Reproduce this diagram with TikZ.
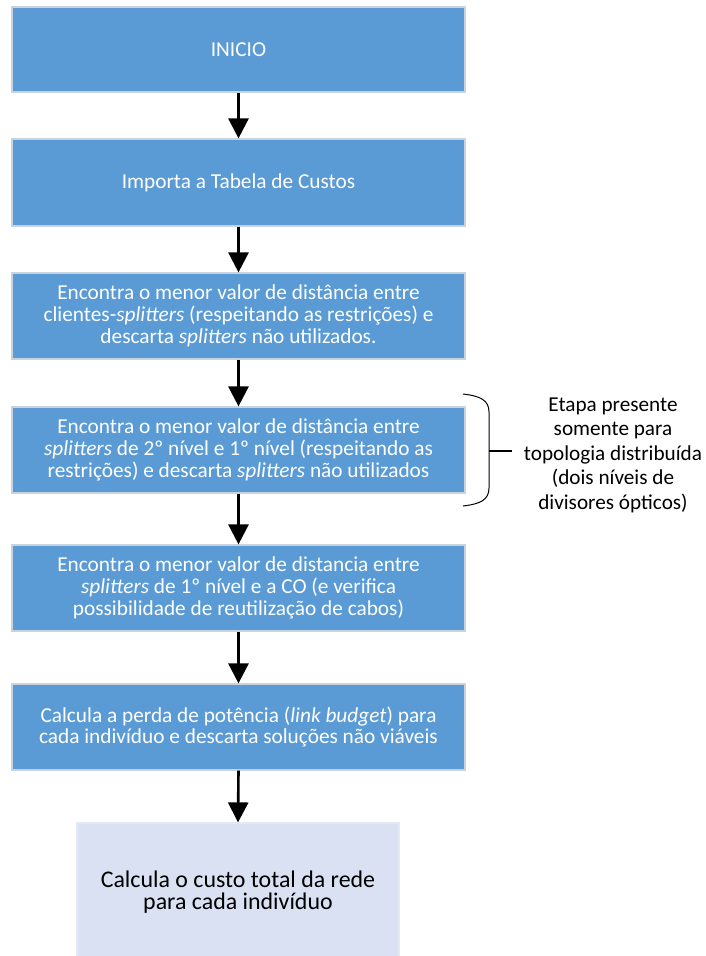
\documentclass[tikz,border=0pt]{standalone}
\usepackage{fontspec}
\setmainfont{Carlito}
\usetikzlibrary{arrows.meta}
\definecolor{boxblue}{HTML}{5B9BD5}
\definecolor{boxedge}{HTML}{C8D3E0}
\definecolor{boxlav}{HTML}{DAE1F3}
\definecolor{lavedge}{HTML}{E4E8F2}
\begin{document}
\begin{tikzpicture}[x=1pt,y=-1pt,
  stepbox/.style={draw=boxedge, line width=1.2pt, fill=boxblue, text=white,
    minimum width=453pt, inner sep=0pt, align=center,
    font=\fontsize{21.3}{21.7}\selectfont},
  lastbox/.style={draw=lavedge, line width=1.2pt, fill=boxlav, text=black,
    minimum width=322pt, inner sep=0pt, align=center,
    font=\fontsize{23.9}{21.7}\selectfont},
  flow/.style={line width=2.6pt, -{Triangle[width=20pt,length=20pt]}, shorten >=0pt}
]
\useasboundingbox (0,0) rectangle (706,956);
\clip (0,0) rectangle (706,956);
\node[stepbox, minimum height=85pt] (b1) at (238.5,49.5) {INICIO};
\node[stepbox, minimum height=87pt] (b2) at (238.5,182.5) {Importa a Tabela de Custos};
\node[stepbox, minimum height=86pt] (b3) at (238.5,316) {Encontra o menor valor de distância entre\\clientes-\textit{splitters} (respeitando as restrições) e\\descarta \textit{splitters} não utilizados.};
\node[stepbox, minimum height=86pt] (b4) at (238.5,450) {Encontra o menor valor de distância entre\\\textit{splitters} de 2º nível e 1º nível (respeitando as\\restrições) e descarta \textit{splitters} não utilizados};
\node[stepbox, minimum height=86pt] (b5) at (238.5,588) {Encontra o menor valor de distancia entre\\\textit{splitters} de 1º nível e a CO (e verifica\\possibilidade de reutilização de cabos)};
\node[stepbox, minimum height=86pt] (b6) at (238.5,727) {Calcula a perda de potência (\textit{link budget}) para\\cada indivíduo e descarta soluções não viáveis};
\node[lastbox, minimum height=138pt] (b7) at (238,892) {Calcula o custo total da rede\\para cada indivíduo};
\draw[flow] (b1.south) -- (b2.north);
\draw[flow] (b2.south) -- (b3.north);
\draw[flow] (b3.south) -- (b4.north);
\draw[flow] (b4.south) -- (b5.north);
\draw[flow] (b5.south) -- (b6.north);
\draw[flow] (b6.south) -- (b7.north);
% brace
\coordinate (bt) at (463,394);
\coordinate (bb) at (463,506);
\coordinate (bm) at (489,451);
\coordinate (tk) at (512,451);
\draw[line width=1pt] (bt) .. controls (480,396) and (489,400) .. (489,412)
  -- (489,488) .. controls (489,500) and (480,504) .. (bb);
\draw[line width=1.4pt] (bm) -- (tk);
\node[align=center, font=\fontsize{21.2}{24.5}\selectfont, inner sep=0pt, anchor=center] (note) at (613,455) {Etapa presente\\somente para\\topologia distribuída\\(dois níveis de\\divisores ópticos)};
\end{tikzpicture}
\end{document}
